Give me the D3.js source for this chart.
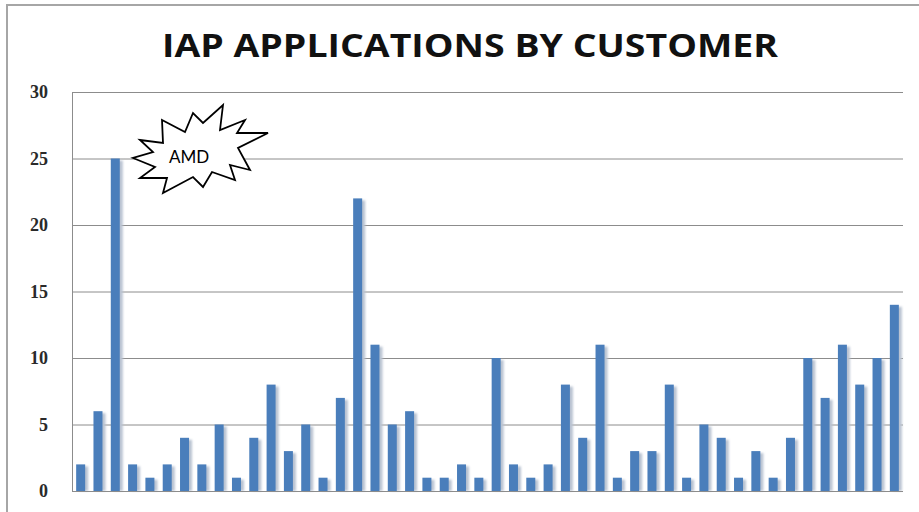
<!DOCTYPE html>
<html>
<head>
<meta charset="utf-8">
<script src="https://cdn.jsdelivr.net/npm/d3@7"></script>
<style>
  body { margin: 0; background: #fff; }
  svg { display: block; }
</style>
</head>
<body>
<script>
// values, one per customer (left to right)
var customers = d3.range(1, 49).map(function(i) { return 'C' + i; });
var applications = [2, 6, 25, 2, 1, 2, 4, 2, 5, 1, 4, 8, 3, 5, 1, 7, 22, 11, 5, 6,
                    1, 1, 2, 1, 10, 2, 1, 2, 8, 4, 11, 1, 3, 3, 8, 1, 5, 4, 1, 3,
                    1, 4, 10, 7, 11, 8, 10, 14];
var yTicks = [0, 5, 10, 15, 20, 25, 30];
var titleText = 'IAP APPLICATIONS BY CUSTOMER';
var calloutText = 'AMD';

var W = 919, H = 512;
var margin = { top: 92, right: 16, bottom: 21, left: 72 };

var svg = d3.select('body').append('svg')
  .attr('width', W)
  .attr('height', H);

var defs = svg.append('defs');
var shadow = defs.append('filter')
  .attr('id', 'shadow')
  .attr('x', '-50%').attr('y', '-10%')
  .attr('width', '200%').attr('height', '120%');
shadow.append('feGaussianBlur').attr('stdDeviation', 1.2);

// chart frame
svg.append('path')
  .attr('d', 'M7,512 V5 H919')
  .attr('fill', 'none')
  .attr('stroke', '#a6a6a6')
  .attr('stroke-width', 2);

svg.append('text')
  .attr('x', 470)
  .attr('y', 57)
  .attr('text-anchor', 'middle')
  .attr('textLength', 616)
  .attr('lengthAdjust', 'spacingAndGlyphs')
  .style('font-family', '"Open Sans", Lato, sans-serif')
  .style('font-weight', 'bold')
  .style('font-size', '33px')
  .attr('fill', '#111')
  .text(titleText);

var x = d3.scaleBand()
  .domain(customers)
  .range([margin.left, W - margin.right])
  .paddingInner(0.48)
  .paddingOuter(0.24);

var y = d3.scaleLinear()
  .domain([0, 30])
  .range([H - margin.bottom, margin.top]);

// grid
svg.append('g')
  .selectAll('line')
  .data(yTicks.slice(1))
  .enter()
  .append('line')
  .attr('x1', margin.left)
  .attr('x2', W - margin.right)
  .attr('y1', function(d) { return y(d) + 0.5; })
  .attr('y2', function(d) { return y(d) + 0.5; })
  .attr('stroke', '#8c8c8c')
  .attr('stroke-width', 1);

var yAxis = d3.axisLeft(y)
  .tickValues(yTicks)
  .tickSize(0)
  .tickPadding(24);

var gy = svg.append('g')
  .attr('transform', 'translate(' + margin.left + ',0)')
  .call(yAxis);
gy.select('.domain').attr('stroke', '#8c8c8c');
gy.selectAll('text')
  .style('font-family', '"Liberation Serif", serif')
  .style('font-weight', 'bold')
  .style('font-size', '18px')
  .attr('fill', '#2a2a2a');

// bar shadows
svg.append('g')
  .selectAll('rect')
  .data(applications)
  .enter()
  .append('rect')
  .attr('x', function(d, i) { return x(customers[i]) + 3; })
  .attr('y', function(d) { return y(d) + 2; })
  .attr('width', x.bandwidth())
  .attr('height', function(d) { return y(0) - y(d) - 2; })
  .attr('fill', '#b9c3d1')
  .attr('filter', 'url(#shadow)');

svg.append('g')
  .selectAll('rect')
  .data(applications)
  .enter()
  .append('rect')
  .attr('x', function(d, i) { return x(customers[i]); })
  .attr('y', function(d) { return y(d); })
  .attr('width', x.bandwidth())
  .attr('height', function(d) { return y(0) - y(d); })
  .attr('fill', '#4a7ebb');

// x axis line
svg.append('line')
  .attr('x1', margin.left)
  .attr('x2', W - margin.right)
  .attr('y1', y(0) + 0.5)
  .attr('y2', y(0) + 0.5)
  .attr('stroke', '#8c8c8c');

// explosion callout
var burst = [[140,140],[163,143],[162,120],[185,132],[193,113],[203,123],[223,105],
             [220,130],[245,120],[237,133],[268,133],[238,148],[250,170],[230,165],
             [235,180],[212,172],[203,187],[193,177],[163,193],[167,178],[140,178],
             [155,167],[133,158],[153,152]];
svg.append('path')
  .attr('d', d3.line()(burst) + 'Z')
  .attr('fill', '#fff')
  .attr('stroke', '#000')
  .attr('stroke-width', 1.8)
  .attr('stroke-linejoin', 'miter');

svg.append('text')
  .attr('x', 189)
  .attr('y', 163)
  .attr('text-anchor', 'middle')
  .style('font-family', 'Lato, "Open Sans", sans-serif')
  .style('font-size', '17px')
  .attr('fill', '#000')
  .text(calloutText);
</script>
</body>
</html>
